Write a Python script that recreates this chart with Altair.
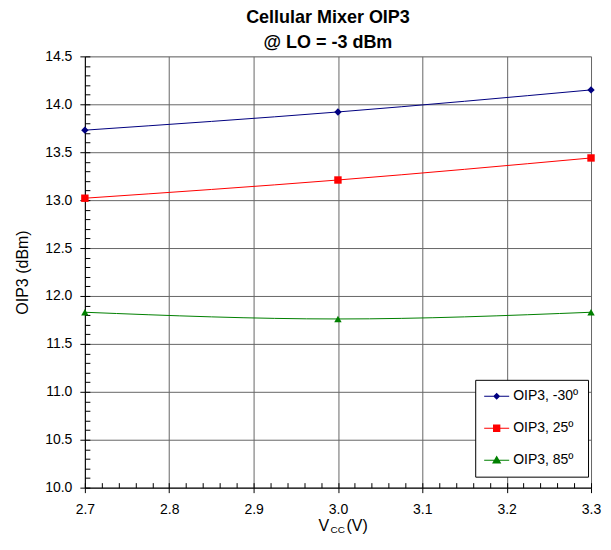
import altair as alt
import pandas as pd

# ---- data ----
vcc = [2.7, 3.0, 3.3]
oip3_m30 = [13.73, 13.92, 14.15]
oip3_25 = [13.02, 13.21, 13.44]
oip3_85 = [11.83, 11.76, 11.83]
series_names = ["OIP3, -30º", "OIP3, 25º", "OIP3, 85º"]
series_colors = ["#000080", "#FF0000", "#008000"]
series_shapes = ["diamond", "square", "triangle-up"]

x_major = [2.7, 2.8, 2.9, 3.0, 3.1, 3.2, 3.3]
y_major = [10.0, 10.5, 11.0, 11.5, 12.0, 12.5, 13.0, 13.5, 14.0, 14.5]
x_minor = [2.7, 2.72, 2.74, 2.76, 2.78, 2.8, 2.82, 2.84, 2.86, 2.88, 2.9,
           2.92, 2.94, 2.96, 2.98, 3.0, 3.02, 3.04, 3.06, 3.08, 3.1, 3.12,
           3.14, 3.16, 3.18, 3.2, 3.22, 3.24, 3.26, 3.28, 3.3]
y_minor = [10.0, 10.1, 10.2, 10.3, 10.4, 10.5, 10.6, 10.7, 10.8, 10.9, 11.0,
           11.1, 11.2, 11.3, 11.4, 11.5, 11.6, 11.7, 11.8, 11.9, 12.0, 12.1,
           12.2, 12.3, 12.4, 12.5, 12.6, 12.7, 12.8, 12.9, 13.0, 13.1, 13.2,
           13.3, 13.4, 13.5, 13.6, 13.7, 13.8, 13.9, 14.0, 14.1, 14.2, 14.3,
           14.4, 14.5]

title_lines = ["Cellular Mixer OIP3", "@ LO = -3 dBm"]
y_title = "OIP3 (dBm)"
x_title_parts = ["V", "CC", "(V)"]

# legend symbols: a short line with the marker on it (custom paths)
legend_paths = [
    "M-1.67,-0.07L1.67,-0.07L1.67,0.07L-1.67,0.07Z M0,-0.47L0.47,0L0,0.47L-0.47,0Z",
    "M-1.67,-0.07L1.67,-0.07L1.67,0.07L-1.67,0.07Z M-0.49,-0.49L0.49,-0.49L0.49,0.49L-0.49,0.49Z",
    "M-1.67,-0.07L1.67,-0.07L1.67,0.07L-1.67,0.07Z M0,-0.62L0.62,0.45L-0.62,0.45Z",
]

rows = []
for name, vals in zip(series_names, [oip3_m30, oip3_25, oip3_85]):
    for v, o in zip(vcc, vals):
        rows.append({"vcc": v, "oip3": o, "series": name})
df = pd.DataFrame(rows)

FONT = "Liberation Sans"
W, H = 507, 432

xscale = alt.Scale(domain=[2.7, 3.3], nice=False, zero=False)
yscale = alt.Scale(domain=[10.0, 14.5], nice=False, zero=False)

x_main = alt.X("vcc:Q", scale=xscale, title=None, axis=alt.Axis(
    orient="bottom", values=x_major, format=".1f", grid=True,
    gridColor="#666666", gridWidth=1, tickSize=5, tickColor="black",
    domainColor="black", labelFont=FONT, labelFontSize=14, labelColor="black",
    labelPadding=10, labelFlush=False))
y_main = alt.Y("oip3:Q", scale=yscale, title=y_title, axis=alt.Axis(
    orient="left", values=y_major, format=".1f", grid=True,
    gridColor="#666666", gridWidth=1, tickSize=5, tickColor="black",
    domainColor="black", labelFont=FONT, labelFontSize=14, labelColor="black",
    labelPadding=8, labelFlush=False, titleFont=FONT, titleFontSize=16,
    titleFontWeight="normal", titleColor="black", titlePadding=14))

color_nolegend = alt.Color("series:N", scale=alt.Scale(domain=series_names, range=series_colors), legend=None)

base = alt.Chart(df)

lines = base.mark_line(strokeWidth=1, interpolate="monotone").encode(
    x=x_main, y=y_main, color=color_nolegend)

points = base.mark_point(filled=True, opacity=1, size=55).encode(
    x=x_main, y=y_main, color=color_nolegend,
    shape=alt.Shape("series:N", scale=alt.Scale(domain=series_names, range=series_shapes), legend=None))

main = alt.layer(lines, points)

# minor ticks (inside) on an extra pair of axes sharing the scales
minor = base.mark_point(opacity=0).encode(
    x=alt.X("vcc:Q", scale=xscale, title=None, axis=alt.Axis(
        values=x_minor, orient="bottom", offset=-5, tickSize=5, tickColor="black",
        labels=False, domain=False, grid=False)),
    y=alt.Y("oip3:Q", scale=yscale, title=None, axis=alt.Axis(
        values=y_minor, orient="left", offset=-5, tickSize=5, tickColor="black",
        labels=False, domain=False, grid=False)))

legend_def = alt.Legend(
    title=None, orient="none", legendX=391, legendY=324,
    strokeColor="black", fillColor="white", padding=9, symbolOffset=5,
    symbolSize=225, symbolStrokeWidth=0, labelFont=FONT, labelFontSize=14,
    labelColor="black", labelOffset=9, rowPadding=17, cornerRadius=0)

legend_layer = alt.Chart(df).transform_filter("false").mark_point(
    filled=True, opacity=1, strokeWidth=0).encode(
    color=alt.Color("series:N", scale=alt.Scale(domain=series_names, range=series_colors), legend=legend_def),
    shape=alt.Shape("series:N", scale=alt.Scale(domain=series_names, range=legend_paths), legend=legend_def))

title_df = pd.DataFrame({"t": x_title_parts})
xt_v = alt.Chart(title_df).transform_filter("datum.t == 'V'").mark_text(
    font=FONT, fontSize=16, align="left", baseline="alphabetic", color="black").encode(
    text="t:N", x=alt.value(234), y=alt.value(H + 43))
xt_cc = alt.Chart(title_df).transform_filter("datum.t == 'CC'").mark_text(
    font=FONT, fontSize=10, align="left", baseline="alphabetic", color="black").encode(
    text="t:N", x=alt.value(246), y=alt.value(H + 45))
xt_rest = alt.Chart(title_df).transform_filter("datum.t == '(V)'").mark_text(
    font=FONT, fontSize=16, align="left", baseline="alphabetic", color="black").encode(
    text="t:N", x=alt.value(262), y=alt.value(H + 43))

chart = alt.layer(main, minor, legend_layer, xt_v, xt_cc, xt_rest).resolve_scale(
    color="independent", shape="independent"
).resolve_axis(
    x="independent", y="independent"
).properties(
    width=W, height=H,
    title=alt.TitleParams(text=title_lines, font=FONT, fontSize=18, fontWeight="bold",
                          color="black", anchor="middle", dx=-10, dy=11, offset=8,
                          lineHeight=25),
    autosize=alt.AutoSizeParams(type="none"),
    padding={"left": 77, "top": 48, "right": 12, "bottom": 54},
).configure_view(stroke=None).configure(background="white")

chart.save("out.html", embed_options={"renderer": "svg", "actions": False})
